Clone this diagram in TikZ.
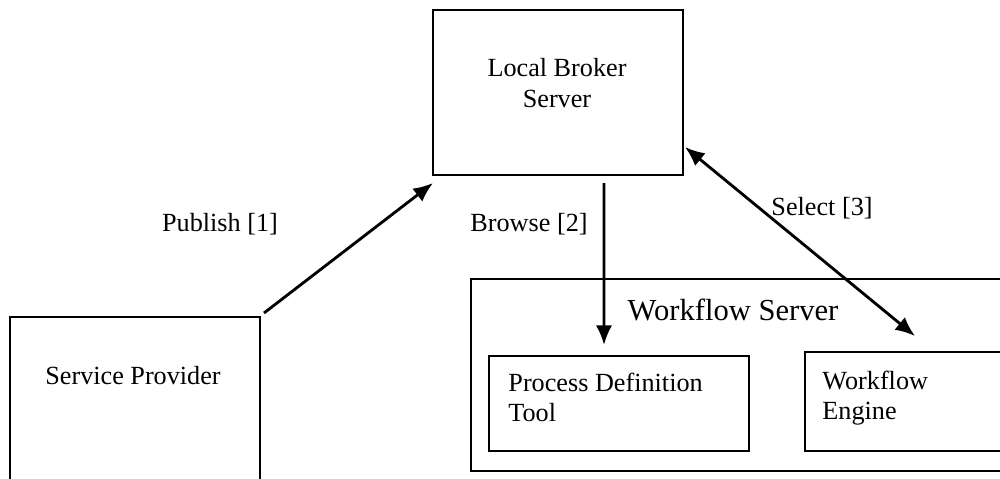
\documentclass[tikz,border=0pt]{standalone}
\usepackage{fontspec}
\setmainfont{Liberation Serif}
\usetikzlibrary{arrows.meta}

\begin{document}
\begin{tikzpicture}[x=0.0161cm,y=-0.0161cm,
    box/.style={draw,line width=0.9pt,inner sep=0pt,anchor=north west},
    txt/.style={font=\fontsize{12}{13.8}\selectfont,inner sep=0pt},
    arr/.style={line width=1.3pt,-{Latex[length=9pt,width=7.5pt]}},
    darr/.style={line width=1.3pt,{Latex[length=9pt,width=7.5pt]}-{Latex[length=9pt,width=7.5pt]}}]
                \useasboundingbox (0,0) rectangle (1000,478);
                \clip (0,0) rectangle (1000,478);
                \node[box,minimum width=4.025cm,minimum height=2.962cm] (sp) at (9,316) {};
                \node[box,minimum width=4.025cm,minimum height=2.657cm] (broker) at (432,9) {};
                \node[box,minimum width=8.694cm,minimum height=3.091cm] (ws) at (470,278) {};
                \node[box,minimum width=4.186cm,minimum height=1.530cm] (pdt) at (488,355) {};
                \node[box,minimum width=3.381cm,minimum height=1.594cm] (eng) at (804,351) {};
                \node[txt] (sptext) at (133,376) {Service Provider};
                \node[txt,align=center] (brokertext) at (557,83) {Local Broker\\Server};
                \node[txt,font=\fontsize{14}{16}\selectfont] (wstext) at (733,310) {Workflow Server};
                \node[txt,align=left,anchor=west] (pdttext) at (508,397) {Process Definition\\Tool};
                \node[txt,align=left,anchor=west] (engtext) at (822,398) {Workflow\\Engine};
                \node[txt] (publish) at (220,224) {Publish [1]};
                \node[txt] (browse) at (529,224) {Browse [2]};
                \node[txt] (select) at (822,208) {Select [3]};
                \draw[arr] ([shift={(3,-3)}]sp.north east) -- ([shift={(1,7)}]broker.south west);
                \draw[arr] ([shift={(46,7)}]broker.south) -- ([shift={(-15,-10)}]pdt.north);
                \draw[darr] ([shift={(1,-29)}]broker.south east) -- ([shift={(111,-15)}]eng.north west);
            \end{tikzpicture}
\end{document}
